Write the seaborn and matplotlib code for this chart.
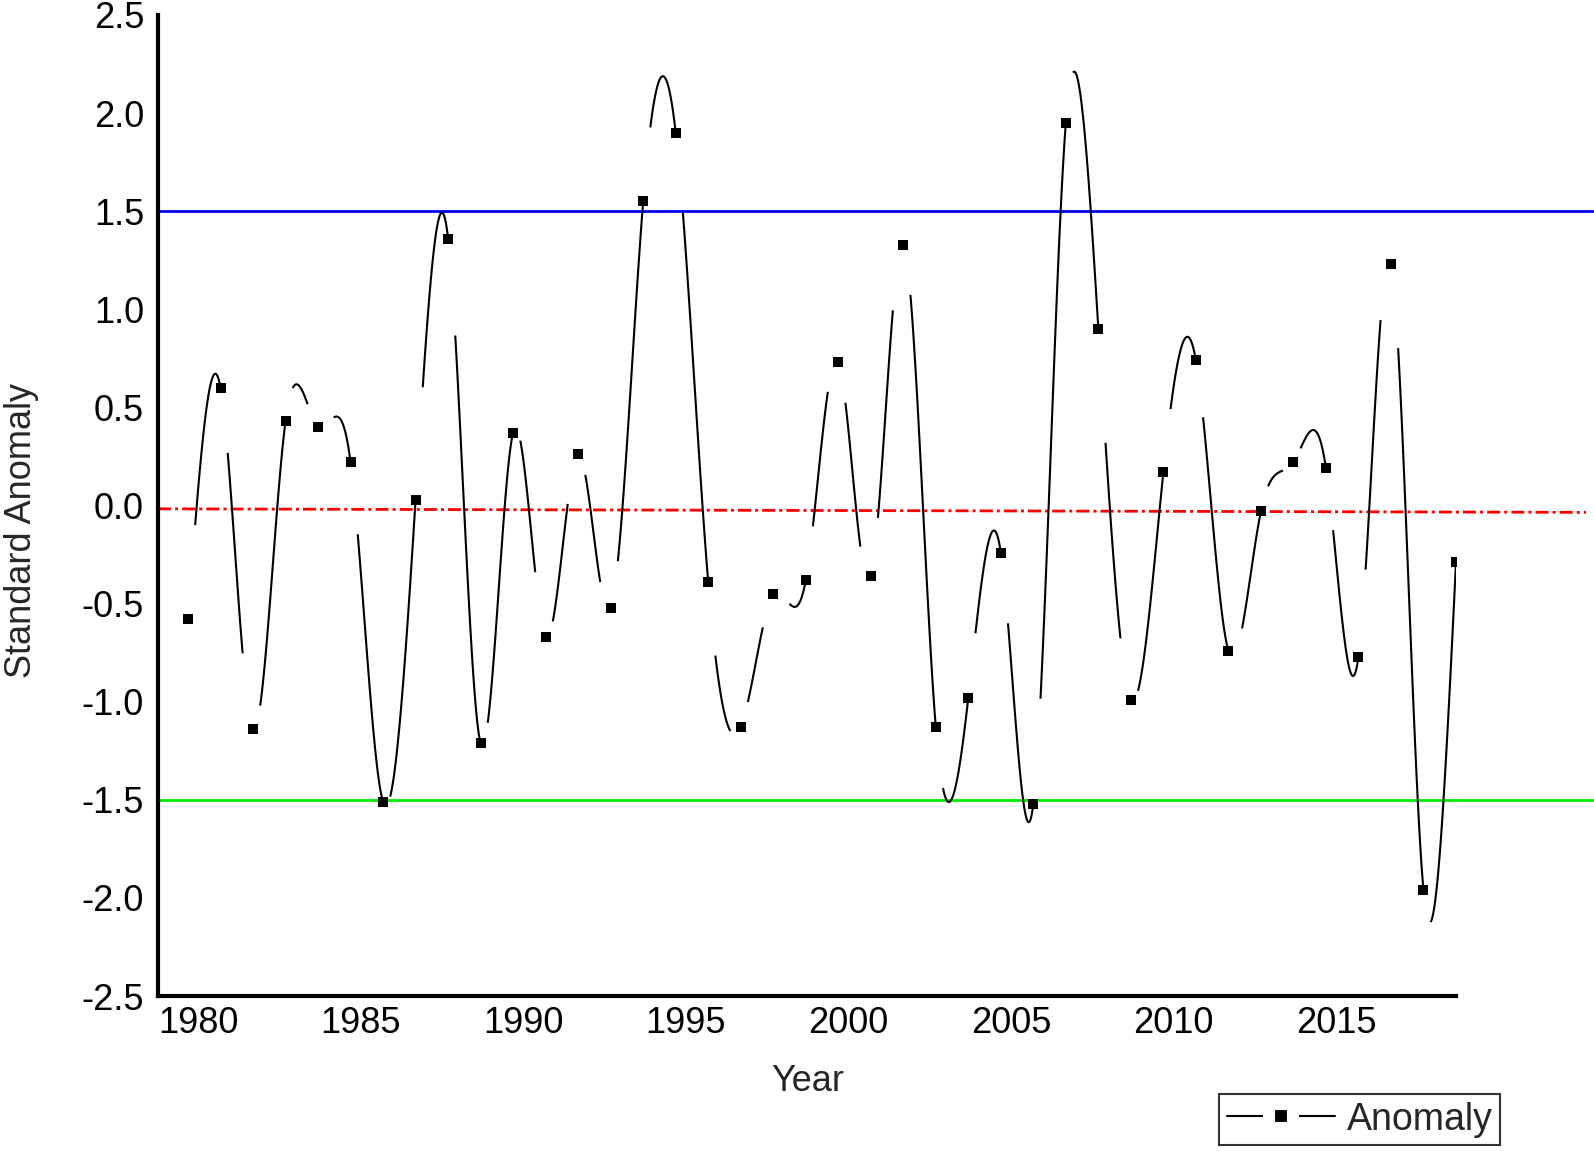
import numpy as np
import matplotlib
matplotlib.use('Agg')
import matplotlib.pyplot as plt
import matplotlib.transforms as mtransforms
from matplotlib.lines import Line2D
import seaborn as sns

# Data
years = np.arange(1980, 2020)
anomaly = [-0.58, 0.60, -1.14, 0.43, 0.40, 0.22, -1.51, 0.03, 1.36, -1.21,
           0.37, -0.67, 0.26, -0.52, 1.55, 1.90, -0.39, -1.13, -0.45, -0.38,
           0.73, -0.36, 1.33, -1.13, -0.98, -0.24, -1.52, 1.95, 0.90, -0.99,
           0.17, 0.74, -0.74, -0.03, 0.22, 0.19, -0.77, 1.23, -1.96, -0.29]
upper_threshold = 1.5
lower_threshold = -1.5
trend_ends = [-0.017, -0.035]
x_ticks = [1980, 1985, 1990, 1995, 2000, 2005, 2010, 2015]
y_ticks = [-2.5, -2.0, -1.5, -1.0, -0.5, 0.0, 0.5, 1.0, 1.5, 2.0, 2.5]

# Line style quirks of the original export: gap after each symbol,
# some spline pieces start later or stop before the next symbol
piece_start = {1984: 0.48, 1998: 0.5, 2012: 0.42}
piece_cut = [1981, 1983, 1990, 1991, 1992, 1996, 1997, 1999, 2000, 2001, 2008, 2013, 2016]

sns.set_theme(style='white')
plt.rcParams['font.family'] = ['Liberation Sans', 'DejaVu Sans']
plt.rcParams['axes.unicode_minus'] = False

fig = plt.figure(figsize=(15.94, 11.51), dpi=100)
ax = fig.add_axes([158 / 1594, 1 - 996 / 1151, 1298 / 1594, 981 / 1151])

x_min, x_max = 1979.077, 2019.0
x_far = 2023.2

# natural cubic spline through the anomalies (unit spacing)
y = np.array(anomaly)
n = len(y)
A = np.zeros((n, n))
rhs = np.zeros(n)
A[0, 0] = A[-1, -1] = 1.0
for i in range(1, n - 1):
    A[i, i - 1], A[i, i], A[i, i + 1] = 1.0, 4.0, 1.0
    rhs[i] = 6 * (y[i + 1] - 2 * y[i] + y[i - 1])
M = np.linalg.solve(A, rhs)

for i in range(n - 1):
    yr = years[i]
    t0 = piece_start.get(yr, 0.22)
    t1 = 0.68 if yr in piece_cut else 1.0
    t = np.linspace(t0, t1, 40)
    s = ((1 - t) * y[i] + t * y[i + 1]
         + ((1 - t) ** 3 - (1 - t)) * M[i] / 6 + (t ** 3 - t) * M[i + 1] / 6)
    ax.plot(yr + t, s, color='black', lw=1.5, solid_capstyle='butt', zorder=3)

sns.scatterplot(x=years, y=anomaly, marker='s', color='black', s=62,
                linewidth=0, ax=ax, zorder=4, legend=False)

# threshold and trend lines run out to the figure edge
ax.plot([x_min, x_far], [upper_threshold, upper_threshold], color='#0000FF', lw=2,
        clip_on=False, zorder=2)
ax.plot([x_min, x_far], [lower_threshold, lower_threshold], color='#00EE00', lw=2,
        clip_on=False, zorder=2)
ax.plot([x_min, 2023.0], trend_ends, color='#FF0000', lw=2,
        linestyle=(0, (4.7, 1.45, 1.1, 1.45)), clip_on=False, zorder=2)

ax.set_xlim(x_min, x_max)
ax.set_ylim(-2.5, 2.5)
ax.set_xticks(x_ticks)
ax.set_xticklabels([str(v) for v in x_ticks])
ax.set_yticks(y_ticks)
ax.set_yticklabels(['%.1f' % v for v in y_ticks])
ax.tick_params(axis='both', length=0, labelsize=26, colors='black')
ax.tick_params(axis='x', pad=7)
ax.tick_params(axis='y', pad=10)
shift = mtransforms.ScaledTranslation(10 / 100, 0, fig.dpi_scale_trans)
for lab in ax.get_xticklabels():
    lab.set_transform(lab.get_transform() + shift)

for side in ['top', 'right']:
    ax.spines[side].set_visible(False)
for side in ['left', 'bottom']:
    ax.spines[side].set_color('black')
    ax.spines[side].set_linewidth(3)
ax.grid(False)
ax.set_facecolor('white')

fig.text(808 / 1594, 1 - 1091 / 1151, 'Year', fontsize=26, ha='center',
         va='baseline')
fig.text(22 / 1594, 1 - 530 / 1151, 'Standard Anomaly', fontsize=26,
         rotation=90, ha='center', va='center')

proxy = Line2D([], [], color='black', lw=1.5, marker='s', markersize=17.3,
               markerfacecolor='black', markeredgecolor='white',
               markeredgewidth=8.7)
leg = fig.legend([proxy], ['Anomaly'], loc='lower right',
                 bbox_to_anchor=(1500 / 1594, 6 / 1151), fontsize=27,
                 frameon=True, fancybox=False, handlelength=2.9,
                 handletextpad=0.3, borderpad=0.2, borderaxespad=0)
leg.get_frame().set_edgecolor('black')
leg.get_frame().set_linewidth(1.5)

fig.savefig('out.png', dpi=100, facecolor='white')
